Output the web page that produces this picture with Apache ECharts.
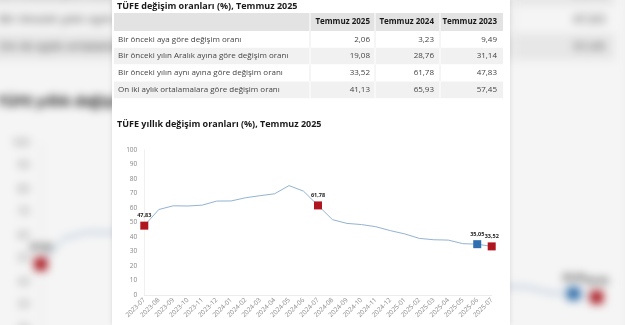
<!DOCTYPE html>
<html>
<head>
<meta charset="utf-8">
<script src="https://cdn.jsdelivr.net/npm/echarts@6/dist/echarts.min.js"></script>
<style>
  html, body { margin:0; padding:0; width:625px; height:325px; overflow:hidden; background:#eeeeee; }
  #bg { position:absolute; left:0; top:0; width:625px; height:325px; overflow:hidden; }
  #bgimg { position:absolute; left:-11px; top:-97px; width:637px; height:520px; filter: blur(4px) brightness(0.96); }
  #panel { position:absolute; left:112px; top:0; width:398px; height:325px; background:#fff; box-shadow:0 0 5px rgba(0,0,0,0.12); }
</style>
</head>
<body>
<div id="bg"><img id="bgimg" alt=""></div>
<div id="panel"></div>
<script>
// ---- data ----
const tableTitle = 'TÜFE değişim oranları (%), Temmuz 2025';
const columnHeaders = ['Temmuz 2025', 'Temmuz 2024', 'Temmuz 2023'];
const rowLabels = [
  'Bir önceki aya göre değişim oranı',
  'Bir önceki yılın Aralık ayına göre değişim oranı',
  'Bir önceki yılın aynı ayına göre değişim oranı',
  'On iki aylık ortalamalara göre değişim oranı'
];
const values2025 = [2.06, 19.08, 33.52, 41.13];
const values2024 = [3.23, 28.76, 61.78, 65.93];
const values2023 = [9.49, 31.14, 47.83, 57.45];

const chartTitle = 'TÜFE yıllık değişim oranları (%), Temmuz 2025';
const categories = ['2023-07','2023-08','2023-09','2023-10','2023-11','2023-12',
  '2024-01','2024-02','2024-03','2024-04','2024-05','2024-06','2024-07','2024-08',
  '2024-09','2024-10','2024-11','2024-12','2025-01','2025-02','2025-03','2025-04',
  '2025-05','2025-06','2025-07'];
const annualRates = [47.83, 58.94, 61.53, 61.36, 61.98, 64.77, 64.86, 67.07, 68.50, 69.80,
  75.45, 71.60, 61.78, 51.97, 49.38, 48.58, 47.09, 44.38, 42.12, 39.05, 38.10, 37.86,
  35.41, 35.05, 33.52];
const redPoints = ['2023-07', '2024-07', '2025-07'];
const bluePoints = ['2025-06'];
const yTicks = [0, 10, 20, 30, 40, 50, 60, 70, 80, 90, 100];

// ---- style ----
const FONT = '"Open Sans", "Noto Sans", sans-serif';
const RED = '#b0161f';
const BLUE = '#2e6fb0';
const fmt = v => v.toFixed(2).replace('.', ',');

// table geometry (panel coordinates)
const TX = 2, TW = 389, HEAD_TOP = 13, HEAD_H = 18, ROW_H = 16.8;
const colRight = [258, 322, 385];
const colDiv = [198, 263, 328];

const graphics = [];
graphics.push({ type:'text', left: 5, top: 2, style:{ text: tableTitle, font: 'bold 9px ' + FONT, fill:'#1a1a1a' } });
graphics.push({ type:'rect', shape:{ x:TX, y:HEAD_TOP, width:TW, height:HEAD_H }, style:{ fill:'#e3e3e3' } });
columnHeaders.forEach((h, i) => {
  graphics.push({ type:'text', x: colRight[i], y: HEAD_TOP + HEAD_H/2, style:{ text:h, font:'bold 8px ' + FONT, fill:'#1a1a1a', textAlign:'right', textVerticalAlign:'middle' } });
});
const cols = [values2025, values2024, values2023];
rowLabels.forEach((lab, r) => {
  const y = HEAD_TOP + HEAD_H + r * ROW_H;
  const gray = r % 2 === 1;
  graphics.push({ type:'rect', shape:{ x:TX, y:y, width:TW, height:ROW_H }, style:{ fill: gray ? '#f1f1f1' : '#ffffff' } });
  colDiv.forEach(cx => {
    graphics.push({ type:'line', shape:{ x1:cx, y1:y, x2:cx, y2:y+ROW_H }, style:{ stroke: gray ? '#ffffff' : '#ececec', lineWidth:1 } });
  });
  graphics.push({ type:'text', x: TX + 4, y: y + ROW_H/2, style:{ text: lab, font:'8px ' + FONT, fill:'#444', textVerticalAlign:'middle' } });
  cols.forEach((arr, c) => {
    graphics.push({ type:'text', x: colRight[c], y: y + ROW_H/2, style:{ text: fmt(arr[r]), font:'8px ' + FONT, fill:'#444', textAlign:'right', textVerticalAlign:'middle' } });
  });
});
colDiv.forEach(cx => {
  graphics.push({ type:'line', shape:{ x1:cx, y1:HEAD_TOP, x2:cx, y2:HEAD_TOP+HEAD_H }, style:{ stroke:'#ffffff', lineWidth:1 } });
});
graphics.push({ type:'text', left: 5, top: 120, style:{ text: chartTitle, font: 'bold 9px ' + FONT, fill:'#1a1a1a' } });

const seriesData = categories.map((c, i) => {
  const isRed = redPoints.includes(c), isBlue = bluePoints.includes(c);
  if (!isRed && !isBlue) return { value: annualRates[i], symbol: 'none' };
  return {
    value: annualRates[i], symbol: 'rect', symbolSize: 8,
    itemStyle: { color: isRed ? RED : BLUE },
    label: { show: true }
  };
});

const chart = echarts.init(document.getElementById('panel'), null, { renderer: 'canvas', width: 398, height: 325 });
chart.setOption({
  animation: false,
  backgroundColor: '#ffffff',
  textStyle: { fontFamily: FONT },
  graphic: graphics,
  grid: { left: 32.3, right: 18.3, top: 150, bottom: 30 },
  xAxis: {
    type: 'category', data: categories, boundaryGap: false,
    axisLine: { show: true, lineStyle: { color: '#ececec' } },
    axisTick: { show: false },
    axisLabel: { rotate: 45, fontSize: 6.5, color: '#888', margin: 4, interval: 0, fontFamily: FONT }
  },
  yAxis: {
    type: 'value', min: yTicks[0], max: yTicks[yTicks.length-1], interval: yTicks[1] - yTicks[0],
    axisLine: { show: true, lineStyle: { color: '#f0f0f0' } },
    axisTick: { show: false },
    splitLine: { show: false },
    axisLabel: { fontSize: 6.5, color: '#888', margin: 7, fontFamily: FONT }
  },
  series: [{
    type: 'line', data: seriesData, showSymbol: true, symbol: 'none',
    lineStyle: { color: '#93b3d3', width: 1 },
    itemStyle: { color: '#93b3d3' },
    label: { show: false, position: 'top', distance: 3, fontSize: 5.5, fontWeight: 'bold', color: '#222', fontFamily: FONT, formatter: p => fmt(p.value) },
    emphasis: { disabled: true }
  }]
});

// blurred, enlarged backdrop made from the rendered panel
document.getElementById('bgimg').src = chart.getDataURL({ type: 'png', pixelRatio: 1, backgroundColor: '#ffffff' });
</script>
</body>
</html>
